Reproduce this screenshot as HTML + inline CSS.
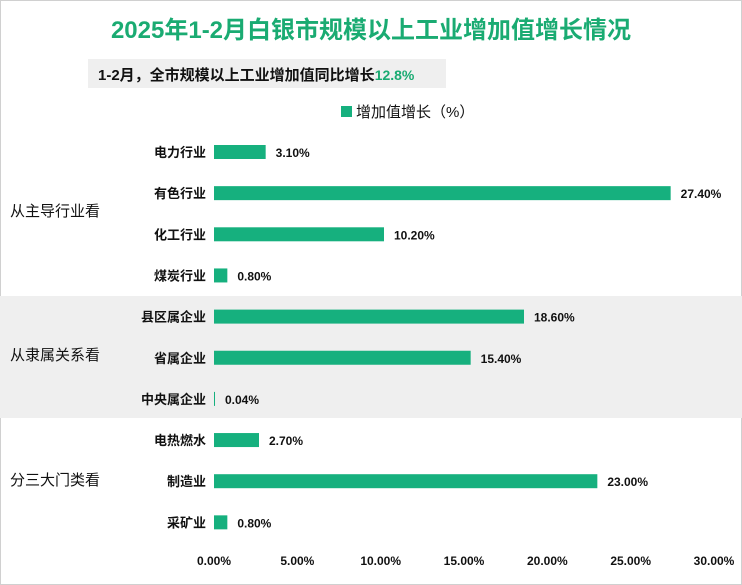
<!DOCTYPE html>
<html><head><meta charset="utf-8"><style>
body{margin:0;background:#fff;}
#wrap{position:relative;width:742px;height:585px;overflow:hidden;font-family:"Liberation Sans","Noto Sans CJK SC",sans-serif;}
svg text{font-family:"Liberation Sans","Noto Sans CJK SC",sans-serif;}
</style></head><body>
<div id="wrap">
<svg id="chart" width="742" height="585">
<rect x="0.5" y="0.5" width="741" height="584" fill="#fff" stroke="#d0d0d0"/>
<rect x="0" y="296" width="742" height="122" fill="#efefef"/>
<text x="371" y="38" text-anchor="middle" font-size="24" font-weight="bold" fill="#1aab72">2025年1-2月白银市规模以上工业增加值增长情况</text>
<rect x="88" y="59" width="358" height="29" fill="#efefef"/>
<text x="98" y="80" font-size="15" font-weight="bold" fill="#111">1-2月，全市规模以上工业增加值同比增长<tspan fill="#1aab72" font-size="14">12.8%</tspan></text>
<rect x="341" y="106" width="11" height="11" fill="#16b07e"/>
<text x="356" y="117" font-size="15" fill="#111">增加值增长（%）</text>
<text x="10" y="216" font-size="15" fill="#111">从主导行业看</text>
<text x="10" y="360" font-size="15" fill="#111">从隶属关系看</text>
<text x="10" y="485" font-size="15" fill="#111">分三大门类看</text>
<g id="marks"></g>
</svg>
</div>
<script>
const categories=["电力行业","有色行业","化工行业","煤炭行业","县区属企业","省属企业","中央属企业","电热燃水","制造业","采矿业"];
const values=[3.10,27.40,10.20,0.80,18.60,15.40,0.04,2.70,23.00,0.80];
const ticks=[0,5,10,15,20,25,30];
const x0=214,x1=714,xmax=30;
const xs=v=>x0+(x1-x0)*v/xmax;
const ys=i=>152+i*41.15;
const ns="http://www.w3.org/2000/svg";
const g=document.getElementById('marks');
function mk(t,a){const e=document.createElementNS(ns,t);for(const k in a)e.setAttribute(k,a[k]);g.appendChild(e);return e;}
categories.forEach((c,i)=>{
 const y=ys(i);
 const l=mk('text',{x:206,y:y+5,'text-anchor':'end','font-size':13,'font-weight':'bold',fill:'#111'});
 
 
 l.textContent=c;
 const w=Math.max(xs(values[i])-x0,1);
 const b=mk('rect',{x:x0,y:y-7,width:w,height:14,fill:'#16b07e'});
 
 
 const v=mk('text',{x:x0+w+10,y:y+5,'font-size':12,'font-weight':'bold',fill:'#111'});
 
 
 v.textContent=values[i].toFixed(2)+'%';
});
ticks.forEach(t=>{
 const e=mk('text',{x:xs(t),y:565,'text-anchor':'middle','font-size':12,'font-weight':'bold',fill:'#111'});
 
 
 e.textContent=t.toFixed(2)+'%';
});
</script>
</body></html>
